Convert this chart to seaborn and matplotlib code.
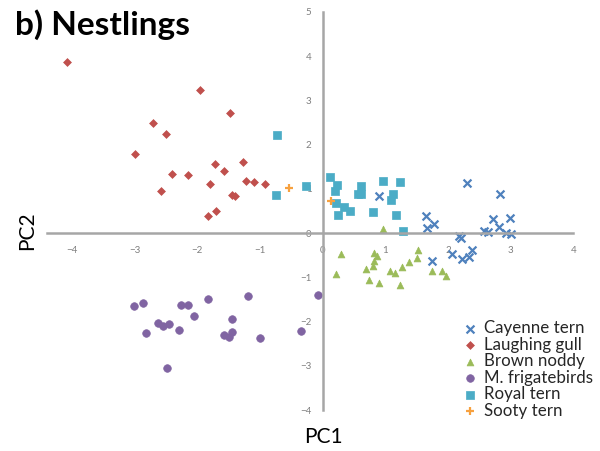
import matplotlib
matplotlib.use("Agg")
import matplotlib.pyplot as plt
import seaborn as sns
import pandas as pd

# PCA scores (PC1, PC2) of nestling samples per species
cayenne_pc1 = [0.90, 2.31, 2.83, 1.65, 1.67, 1.78, 2.71, 2.99, 2.81, 2.58,
               2.64, 2.93, 3.00, 2.18, 2.20, 2.38, 2.07, 2.22, 2.33, 1.75]
cayenne_pc2 = [0.83, 1.13, 0.88, 0.38, 0.11, 0.20, 0.33, 0.35, 0.13, 0.05,
               0.02, 0.00, -0.03, -0.07, -0.10, -0.38, -0.48, -0.58, -0.53, -0.62]

gull_pc1 = [-4.07, -1.95, -1.47, -2.70, -2.50, -2.99, -1.27, -1.71, -1.58, -2.40,
            -2.14, -1.22, -1.09, -1.79, -0.92, -2.58, -1.45, -1.39, -1.70, -1.83]
gull_pc2 = [3.86, 3.23, 2.72, 2.50, 2.25, 1.80, 1.61, 1.57, 1.41, 1.34,
            1.31, 1.18, 1.15, 1.12, 1.10, 0.95, 0.87, 0.84, 0.51, 0.39]

noddy_pc1 = [0.96, 0.30, 0.22, 0.82, 0.86, 0.82, 0.81, 0.69, 0.74, 0.90,
             1.08, 1.15, 1.26, 1.37, 1.50, 1.52, 1.23, 1.74, 1.90, 1.96]
noddy_pc2 = [0.10, -0.47, -0.92, -0.45, -0.51, -0.62, -0.75, -0.81, -1.07, -1.12,
             -0.86, -0.90, -0.77, -0.66, -0.56, -0.39, -1.17, -0.86, -0.86, -0.96]

frigate_pc1 = [-3.00, -2.87, -2.26, -2.14, -1.82, -1.19, -0.07, -2.05, -1.45, -2.63,
               -2.55, -2.45, -2.81, -2.29, -1.58, -1.49, -1.44, -1.00, -0.35, -2.48]
frigate_pc2 = [-1.64, -1.58, -1.62, -1.63, -1.49, -1.43, -1.41, -1.88, -1.95, -2.03,
               -2.10, -2.05, -2.27, -2.20, -2.31, -2.36, -2.23, -2.37, -2.21, -3.04]

royal_pc1 = [-0.73, -0.75, -0.26, 0.12, 0.23, 0.19, 0.21, 0.25, 0.34, 0.44,
             0.61, 0.57, 0.61, 0.96, 1.24, 1.13, 1.09, 0.80, 1.17, 1.28]
royal_pc2 = [2.22, 0.87, 1.06, 1.27, 1.08, 0.96, 0.69, 0.42, 0.59, 0.50,
             1.06, 0.88, 0.88, 1.18, 1.16, 0.88, 0.76, 0.48, 0.42, 0.05]

sooty_pc1 = [-0.53, 0.14]
sooty_pc2 = [1.02, 0.73]

species = ["Cayenne tern", "Laughing gull", "Brown noddy",
           "M. frigatebirds", "Royal tern", "Sooty tern"]
pc1_values = [cayenne_pc1, gull_pc1, noddy_pc1, frigate_pc1, royal_pc1, sooty_pc1]
pc2_values = [cayenne_pc2, gull_pc2, noddy_pc2, frigate_pc2, royal_pc2, sooty_pc2]

x_ticks = [-4, -3, -2, -1, 0, 1, 2, 3, 4]
y_ticks = [-4, -3, -2, -1, 0, 1, 2, 3, 4, 5]

colors = ["#4F81BD", "#C0504D", "#9BBB59", "#8064A2", "#4BACC6", "#F7A13F"]
markers = ["x", "D", "^", "o", "s", "+"]
sizes = [32, 16, 24, 30, 28, 40]

frames = [pd.DataFrame({"PC1": a, "PC2": b, "Species": name})
          for name, a, b in zip(species, pc1_values, pc2_values)]
df = pd.concat(frames, ignore_index=True)

sns.set_theme(style="white")
plt.rcParams["font.family"] = ["Lato", "DejaVu Sans"]

fig = plt.figure(figsize=(6.0, 4.51), dpi=100)
ax = fig.add_axes([0.0778, 0.0909, 0.878, 0.8825])

for name, col, mk, sz in zip(species, colors, markers, sizes):
    sub = df[df["Species"] == name]
    if mk in ("x", "+"):
        sns.scatterplot(data=sub, x="PC1", y="PC2", marker=mk, color=col,
                        s=sz, linewidth=1.6, ax=ax, label=name)
    else:
        sns.scatterplot(data=sub, x="PC1", y="PC2", marker=mk, color=col,
                        s=sz, edgecolor=col, linewidth=0.5, ax=ax, label=name)

ax.set_xlim(-4.4, 4)
ax.set_ylim(-4, 5)
ax.set_xticks(x_ticks)
ax.set_yticks(y_ticks)

# axes crossing at the origin
for side in ("top", "right"):
    ax.spines[side].set_visible(False)
ax.spines["left"].set_position(("data", 0))
ax.spines["bottom"].set_position(("data", 0))
for side in ("left", "bottom"):
    ax.spines[side].set_color("#A6A6A6")
    ax.spines[side].set_linewidth(1.8)

ax.tick_params(axis="both", length=0, labelsize=7, labelcolor="#7F7F7F")
ax.tick_params(axis="x", pad=9)
ax.tick_params(axis="y", pad=8)
ax.set_xlabel("")
ax.set_ylabel("")

fig.text(15 / 600, 1 - 35 / 451, "b) Nestlings", fontsize=24,
         fontweight="bold", ha="left", va="baseline", color="black")
fig.text(27 / 600, 1 - 231 / 451, "PC2", fontsize=15, rotation=90,
         ha="center", va="center", color="black")
fig.text(323 / 600, 1 - 437 / 451, "PC1", fontsize=15,
         ha="center", va="center", color="black")

ax.legend(loc="upper left", bbox_to_anchor=(465 / 600, 1 - 320 / 451),
          bbox_transform=fig.transFigure, frameon=False, fontsize=12.2,
          handlelength=0.6, handletextpad=0.55, labelspacing=0.03,
          borderpad=0, borderaxespad=0, markerscale=1.0)

fig.savefig("out.png", dpi=100)
